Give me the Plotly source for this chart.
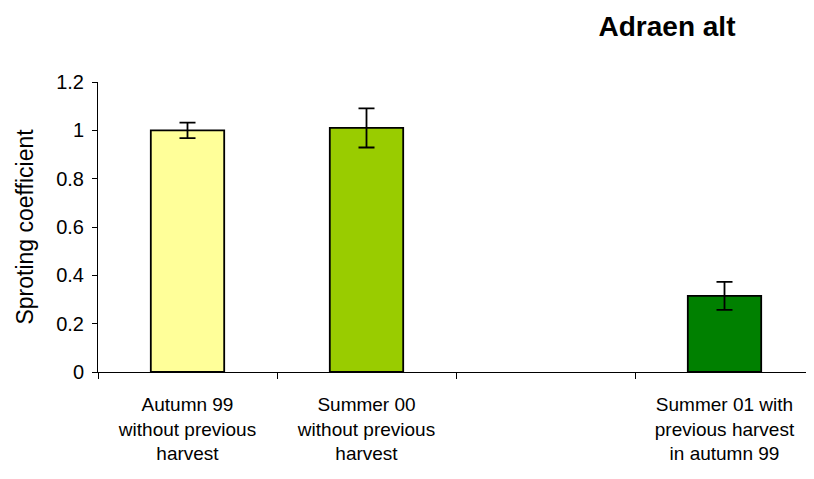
import plotly.graph_objects as go

categories = [
    "Autumn 99<br>without previous<br>harvest",
    "Summer 00<br>without previous<br>harvest",
    " ",
    "Summer 01 with<br>previous harvest<br>in autumn 99",
]
values = [1.0, 1.01, None, 0.315]
errors = [0.032, 0.081, None, 0.058]
colors = ["#FFFF99", "#99CC00", "#FFFFFF", "#008000"]
y_ticks = [0, 0.2, 0.4, 0.6, 0.8, 1, 1.2]

FONT = "Arial, Liberation Sans, sans-serif"
W, H = 806, 471  # page body margin of 8px is added by the browser

fig = go.Figure(
    go.Bar(
        x=categories,
        y=values,
        width=0.41,
        marker=dict(color=colors, line=dict(color="black", width=1.8)),
        error_y=dict(type="data", array=errors, visible=True,
                     color="black", thickness=1.8, width=8),
    )
)

fig.update_layout(
    width=W, height=H,
    margin=dict(l=90, r=0, t=74, b=107, autoexpand=False),
    paper_bgcolor="white", plot_bgcolor="white",
    font=dict(family=FONT, color="black"),
    showlegend=False,
    title=dict(text="<b>Adraen alt</b>", font=dict(size=28, family=FONT, color="black"),
               xref="container", x=659/W, xanchor="center",
               yref="container", y=1 - 18/H, yanchor="middle", automargin=False),
)
fig.update_xaxes(
    type="category", range=[-0.5, 3.5], automargin=False,
    showline=True, linecolor="black", linewidth=1,
    ticks="outside", tickson="boundaries", ticklen=6, tickcolor="black",
    tickfont=dict(size=19, family=FONT, color="black"),
    ticklabelstandoff=15,
    showgrid=False, zeroline=False,
)
fig.update_yaxes(
    range=[0, 1.2], tickvals=y_ticks, automargin=False,
    showline=True, linecolor="black", linewidth=1,
    ticks="outside", ticklen=5, tickcolor="black",
    tickfont=dict(size=20, family=FONT, color="black"),
    ticklabelstandoff=4,
    showgrid=False, zeroline=False,
    title=dict(text="Sproting coefficient", font=dict(size=23, family=FONT, color="black"),
               standoff=16),
)

fig.write_html("out.html")
